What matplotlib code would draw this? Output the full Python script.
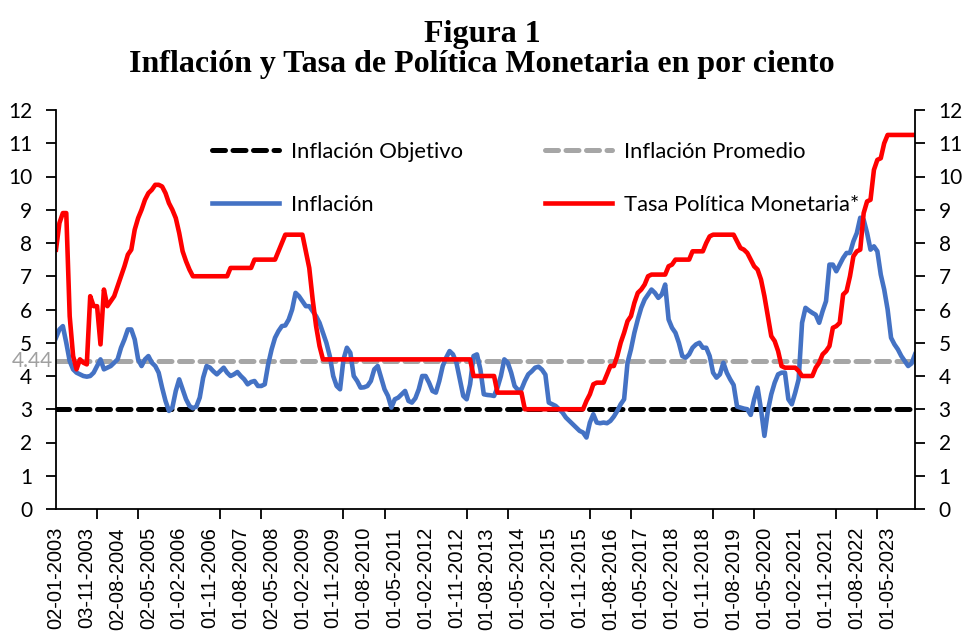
import matplotlib
matplotlib.use("Agg")
import matplotlib.pyplot as plt
import numpy as np

# monthly data, Jan 2003 - Dec 2023
inflacion = [
    5.15, 5.4, 5.5, 5.0, 4.45, 4.2, 4.1, 4.05, 4.0, 3.98, 4.0, 4.1,          # 2003
    4.3, 4.5, 4.2, 4.25, 4.3, 4.4, 4.5, 4.85, 5.1, 5.4, 5.4, 5.1,            # 2004
    4.5, 4.3, 4.5, 4.6, 4.4, 4.3, 4.1, 3.65, 3.25, 2.95, 3.05, 3.55,         # 2005
    3.9, 3.6, 3.3, 3.1, 3.03, 3.08, 3.35, 3.95, 4.3, 4.25, 4.14, 4.05,       # 2006
    4.15, 4.25, 4.1, 4.0, 4.05, 4.12, 4.0, 3.9, 3.75, 3.82, 3.85, 3.7,       # 2007
    3.7, 3.75, 4.35, 4.8, 5.15, 5.35, 5.5, 5.52, 5.7, 6.0, 6.5, 6.4,         # 2008
    6.25, 6.1, 6.1, 5.95, 5.8, 5.6, 5.3, 5.0, 4.6, 4.0, 3.7, 3.6,            # 2009
    4.5, 4.85, 4.7, 4.0, 3.85, 3.65, 3.66, 3.7, 3.85, 4.2, 4.3, 3.95,        # 2010
    3.6, 3.4, 3.05, 3.3, 3.35, 3.45, 3.55, 3.25, 3.2, 3.33, 3.6, 4.0,        # 2011
    4.0, 3.8, 3.55, 3.5, 3.85, 4.3, 4.55, 4.75, 4.65, 4.4, 3.9, 3.4,         # 2012
    3.3, 3.75, 4.6, 4.65, 4.2, 3.45, 3.43, 3.42, 3.4, 3.65, 4.0, 4.5,        # 2013
    4.4, 4.1, 3.7, 3.58, 3.6, 3.85, 4.05, 4.14, 4.25, 4.28, 4.19, 4.04,      # 2014
    3.2, 3.15, 3.1, 3.0, 2.9, 2.75, 2.65, 2.55, 2.45, 2.35, 2.3, 2.15,       # 2015
    2.6, 2.85, 2.6, 2.58, 2.6, 2.58, 2.65, 2.78, 2.95, 3.15, 3.3, 4.4,       # 2016
    4.8, 5.3, 5.7, 6.05, 6.3, 6.45, 6.6, 6.5, 6.35, 6.45, 6.75, 5.7,         # 2017
    5.45, 5.3, 5.0, 4.6, 4.55, 4.65, 4.85, 4.95, 5.0, 4.85, 4.85, 4.6,       # 2018
    4.1, 3.95, 4.05, 4.4, 4.1, 3.9, 3.73, 3.08, 3.05, 3.02, 3.0, 2.83,       # 2019
    3.3, 3.65, 3.0, 2.2, 2.95, 3.45, 3.8, 4.05, 4.1, 4.1, 3.3, 3.15,         # 2020
    3.5, 3.9, 5.6, 6.05, 5.97, 5.9, 5.84, 5.6, 5.95, 6.25, 7.35, 7.35,       # 2021
    7.15, 7.35, 7.55, 7.7, 7.7, 8.05, 8.3, 8.76, 8.7, 8.3, 7.8, 7.9,         # 2022
    7.75, 7.05, 6.6, 6.0, 5.15, 4.95, 4.8, 4.6, 4.45, 4.3, 4.38, 4.65,       # 2023
]

tasa_politica = [
    7.8, 8.6, 8.9, 8.9, 5.8, 4.6, 4.2, 4.5, 4.4, 4.35, 6.4, 6.1,             # 2003
    6.1, 4.95, 6.6, 6.1, 6.25, 6.4, 6.7, 7.0, 7.3, 7.65, 7.8, 8.4,           # 2004
    8.75, 9.0, 9.3, 9.5, 9.6, 9.75, 9.75, 9.7, 9.5, 9.2, 9.0, 8.75,          # 2005
    8.3, 7.75, 7.45, 7.2, 7.0, 7.0, 7.0, 7.0, 7.0, 7.0, 7.0, 7.0,            # 2006
    7.0, 7.0, 7.0, 7.25, 7.25, 7.25, 7.25, 7.25, 7.25, 7.25, 7.5, 7.5,       # 2007
    7.5, 7.5, 7.5, 7.5, 7.5, 7.75, 8.0, 8.25, 8.25, 8.25, 8.25, 8.25,        # 2008
    8.25, 7.75, 7.25, 6.3, 5.5, 4.9, 4.5, 4.5, 4.5, 4.5, 4.5, 4.5,           # 2009
    4.5, 4.5, 4.5, 4.5, 4.5, 4.5, 4.5, 4.5, 4.5, 4.5, 4.5, 4.5,              # 2010
    4.5, 4.5, 4.5, 4.5, 4.5, 4.5, 4.5, 4.5, 4.5, 4.5, 4.5, 4.5,              # 2011
    4.5, 4.5, 4.5, 4.5, 4.5, 4.5, 4.5, 4.5, 4.5, 4.5, 4.5, 4.5,              # 2012
    4.5, 4.5, 4.0, 4.0, 4.0, 4.0, 4.0, 4.0, 4.0, 3.5, 3.5, 3.5,              # 2013
    3.5, 3.5, 3.5, 3.5, 3.5, 3.0, 3.0, 3.0, 3.0, 3.0, 3.0, 3.0,              # 2014
    3.0, 3.0, 3.0, 3.0, 3.0, 3.0, 3.0, 3.0, 3.0, 3.0, 3.0, 3.25,             # 2015
    3.45, 3.75, 3.8, 3.8, 3.8, 4.05, 4.3, 4.3, 4.6, 5.0, 5.3, 5.65,          # 2016
    5.8, 6.2, 6.5, 6.6, 6.75, 7.0, 7.05, 7.05, 7.05, 7.05, 7.05, 7.3,        # 2017
    7.35, 7.5, 7.5, 7.5, 7.5, 7.5, 7.75, 7.75, 7.75, 7.75, 8.0, 8.2,         # 2018
    8.25, 8.25, 8.25, 8.25, 8.25, 8.25, 8.25, 8.05, 7.85, 7.8, 7.7, 7.5,     # 2019
    7.3, 7.2, 6.9, 6.4, 5.8, 5.2, 5.05, 4.75, 4.3, 4.25, 4.25, 4.25,         # 2020
    4.25, 4.15, 4.0, 4.0, 4.0, 4.0, 4.25, 4.4, 4.65, 4.75, 4.9, 5.45,        # 2021
    5.5, 5.6, 6.45, 6.55, 7.0, 7.6, 7.75, 7.8, 8.9, 9.25, 9.3, 10.2,         # 2022
    10.5, 10.55, 11.0, 11.25, 11.25, 11.25, 11.25, 11.25, 11.25, 11.25, 11.25, 11.25,  # 2023
]

inflacion_objetivo = 3.0
inflacion_promedio = 4.44

etiquetas_fecha = [
    "02-01-2003", "03-11-2003", "02-08-2004", "02-05-2005", "01-02-2006",
    "01-11-2006", "01-08-2007", "02-05-2008", "01-02-2009", "01-11-2009",
    "01-08-2010", "01-05-2011", "01-02-2012", "01-11-2012", "01-08-2013",
    "01-05-2014", "01-02-2015", "01-11-2015", "01-08-2016", "01-05-2017",
    "01-02-2018", "01-11-2018", "01-08-2019", "01-05-2020", "01-02-2021",
    "01-11-2021", "01-08-2022", "01-05-2023",
]

n = len(inflacion)
x = np.arange(n)

fig = plt.figure(figsize=(9.64, 6.35), dpi=100)
ax = fig.add_axes([56 / 964, 1 - 509 / 635, 859 / 964, 399 / 635])

dash = (2.6, 1.5)
ax.plot(x, np.full(n, inflacion_objetivo), color="black", lw=3.6,
        linestyle=(0, dash), dash_capstyle="round", label="Inflación Objetivo")
ax.plot(x, np.full(n, inflacion_promedio), color="#A6A6A6", lw=3.6,
        linestyle=(0, dash), dash_capstyle="round", label="Inflación Promedio")
ax.plot(x, inflacion, color="#4472C4", lw=3.3, solid_joinstyle="round",
        label="Inflación")
ax.plot(x, tasa_politica, color="#FF0000", lw=3.3, solid_joinstyle="round",
        label="Tasa Política Monetaria*")

ax.set_xlim(0, n - 1)
ax.set_ylim(0, 12)
ax.set_yticks(range(0, 13))

# labels every 9 months, tick marks every 12
ax.set_xticks(x[::9][:len(etiquetas_fecha)])
ax.set_xticklabels(etiquetas_fecha, rotation=90, fontsize=14.5,
                   family="Liberation Sans")
ax.set_xticks(x[::12], minor=True)
ax.tick_params(axis="x", which="major", length=0, pad=13)
ax.tick_params(axis="x", which="minor", length=7, width=1.3, direction="out")
ax.tick_params(axis="y", length=7, width=1.3, direction="out", pad=10,
               labelsize=15)
for lab in ax.get_yticklabels():
    lab.set_family("Lato")

for side in ["left", "bottom"]:
    ax.spines[side].set_linewidth(1.3)
ax.spines["top"].set_visible(False)
ax.spines["right"].set_visible(False)

ax2 = ax.twinx()
ax2.set_ylim(0, 12)
ax2.set_yticks(range(0, 13))
ax2.tick_params(axis="y", length=7, width=1.3, direction="out", pad=10,
                labelsize=15)
for lab in ax2.get_yticklabels():
    lab.set_family("Lato")
ax2.spines["right"].set_linewidth(1.3)
ax2.spines["top"].set_visible(False)
ax2.spines["left"].set_visible(False)
ax2.spines["bottom"].set_visible(False)

# data label of the average line, sits over the "4" tick label as in the source
ax.text(-0.004, inflacion_promedio, "4.44", transform=ax.get_yaxis_transform(),
        ha="right", va="center", fontsize=15, color="#A0A0A0", family="Lato")

handles, labels = ax.get_legend_handles_labels()
order = [0, 2, 1, 3]
fig.legend([handles[i] for i in order], [labels[i] for i in order],
           ncol=2, loc="upper left", bbox_to_anchor=(212 / 964, 1 - 142 / 635),
           bbox_transform=fig.transFigure, frameon=False,
           prop={"family": "Lato", "size": 15.8}, handlelength=3.05,
           handletextpad=0.55, columnspacing=3.75, labelspacing=1.5,
           borderpad=0, borderaxespad=0)

fig.text(0.5, 1 - 20 / 635, "Figura 1\nInflación y Tasa de Política Monetaria en por ciento",
         ha="center", va="top", fontsize=23, fontweight="bold",
         family="Liberation Serif", linespacing=1.05)

fig.savefig("out.png", dpi=100)
